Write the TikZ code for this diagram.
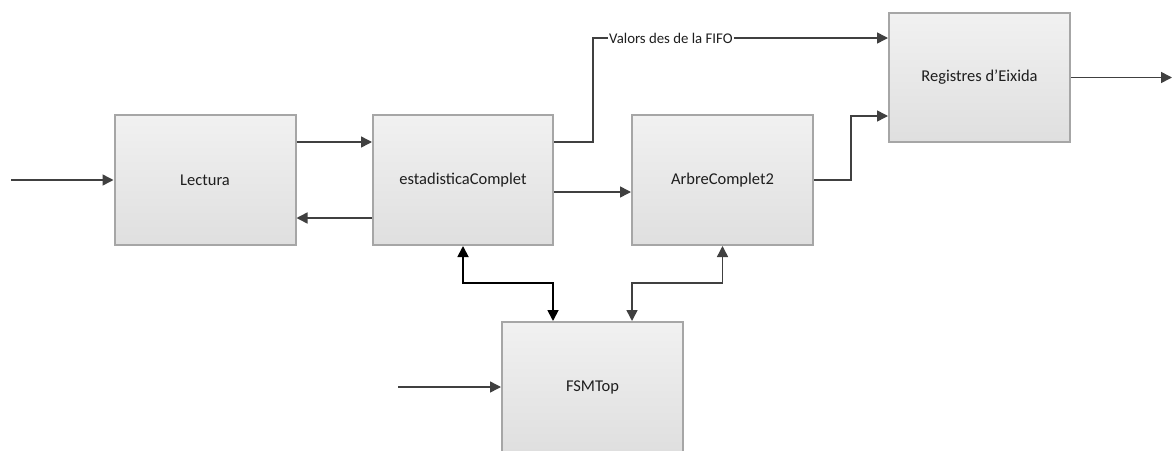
\documentclass[tikz,border=0pt]{standalone}
\usepackage{fontspec}
\setmainfont{Carlito}
\usetikzlibrary{arrows.meta,calc}

\definecolor{boxtop}{HTML}{F1F1F1}
\definecolor{boxbottom}{HTML}{DFDFDF}
\definecolor{boxline}{HTML}{A6A6A6}
\definecolor{wire}{HTML}{404040}
\definecolor{txt}{HTML}{1E1E1E}

\tikzset{
  block/.style={draw=boxline, line width=2pt, top color=boxtop, bottom color=boxbottom,
    minimum width=181pt, minimum height=130pt, inner sep=0pt, text=txt,
    font=\fontsize{16.5}{19}\selectfont},
  conn/.style={draw=wire, line width=1.5pt, -{Triangle[length=11pt,width=11pt]}},
  wireonly/.style={draw=wire, line width=1.5pt},
  biconn/.style={draw=wire, line width=1.5pt, {Triangle[length=11pt,width=11pt]}-{Triangle[length=11pt,width=11pt]}},
  biconndark/.style={draw=black, line width=1.8pt, {Triangle[length=11pt,width=11pt]}-{Triangle[length=11pt,width=11pt]}},
  lbl/.style={fill=white, inner sep=1pt, text=txt, font=\fontsize{14.8}{17}\selectfont}
}

\begin{document}
\begin{tikzpicture}[x=1pt,y=-1pt]
  \clip (0,0) rectangle (1172,450);
  \fill[white] (0,0) rectangle (1172,450);

  % blocks
  \node[block] (lect)  at (205,180)   {Lectura};
  \node[block, minimum width=180pt] (estad) at (463,180) {estadisticaComplet};
  \node[block] (arbre) at (722.5,180) {ArbreComplet2};
  \node[block, minimum height=129pt] (regs) at (979.5,77.5) {Registres d’Eixida};
  \node[block] (fsm)   at (592.5,387) {FSMTop};

  % free ends, bends and ports
  \coordinate (inL)   at (11,180);
  \coordinate (inF)   at (398,387);
  \coordinate (outR)  at (1172,77.5);
  \coordinate (bendF) at (593,38);
  \coordinate (bendA) at (851,180);
  \coordinate (busY)  at (0,283);
  \coordinate (fsmL)  at ([xshift=-39.5pt]fsm.north);
  \coordinate (fsmR)  at ([xshift=39.5pt]fsm.north);

  % data path
  \draw[conn] (inL) -- (lect.west);
  \draw[conn] ([yshift=38pt]lect.east) -- ([yshift=38pt]estad.west);
  \draw[conn] ([yshift=-38pt]estad.west) -- ([yshift=-38pt]lect.east);
  \draw[conn] ([yshift=-12pt]estad.east) -- ([yshift=-12pt]arbre.west);

  % FIFO values straight to the output registers
  \node[lbl, anchor=west] (fifo) at (608,38) {Valors des de la FIFO};
  \draw[wireonly] ([yshift=38pt]estad.east) -| (bendF) -- (fifo.west);
  \draw[conn] (fifo.east) -- (regs.west |- fifo.east);

  % tree result to the output registers
  \draw[conn] (arbre.east) -- (bendA) |- ([yshift=-38.5pt]regs.west);
  \draw[conn] (regs.east) -- (outR);

  % control from the state machine
  \draw[biconndark] (estad.south) |- (busY -| fsmL) -- (fsmL);
  \draw[biconn] (arbre.south) |- (busY -| fsmR) -- (fsmR);
  \draw[conn] (inF) -- (fsm.west);
\end{tikzpicture}
\end{document}
